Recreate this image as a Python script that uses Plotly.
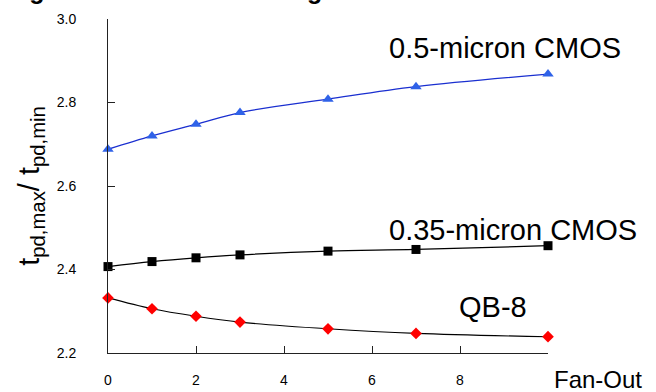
import plotly.graph_objects as go

fan_out = [0, 1, 2, 3, 5, 7, 10]
cmos_05 = [2.688, 2.720, 2.748, 2.776, 2.808, 2.838, 2.868]
cmos_035 = [2.407, 2.419, 2.428, 2.435, 2.444, 2.448, 2.457]
qb8 = [2.332, 2.306, 2.288, 2.274, 2.258, 2.247, 2.239]

x_tickvals = [0, 2, 4, 6, 8, 10]
x_ticktext = ["0", "2", "4", "6", "8", ""]
y_tickvals = [2.2, 2.4, 2.6, 2.8, 3.0]
y_ticktext = ["2.2", "2.4", "2.6", "2.8", "3.0"]

FONT = "Arial, Liberation Sans, sans-serif"

fig = go.Figure()
fig.add_trace(go.Scatter(
    x=fan_out, y=cmos_05, mode="lines+markers",
    line=dict(color="#1a2fd0", width=1.3, shape="spline"),
    marker=dict(symbol="triangle-up", size=10, color="#2f62e8"),
    cliponaxis=False, showlegend=False))
fig.add_trace(go.Scatter(
    x=fan_out, y=cmos_035, mode="lines+markers",
    line=dict(color="black", width=1.3, shape="spline"),
    marker=dict(symbol="square", size=9, color="black"),
    cliponaxis=False, showlegend=False))
fig.add_trace(go.Scatter(
    x=fan_out, y=qb8, mode="lines+markers",
    line=dict(color="black", width=1.1, shape="spline"),
    marker=dict(symbol="diamond", size=9, color="#ff0000"),
    cliponaxis=False, showlegend=False))

ann_font = dict(family=FONT, size=29, color="black")
fig.add_annotation(x=9.02, y=2.93, text="0.5-micron CMOS", showarrow=False,
                   xanchor="center", yanchor="middle", font=ann_font)
fig.add_annotation(x=9.2, y=2.495, text="0.35-micron CMOS", showarrow=False,
                   xanchor="center", yanchor="middle", font=ann_font)
fig.add_annotation(x=8.75, y=2.31, text="QB-8", showarrow=False,
                   xanchor="center", yanchor="middle", font=ann_font)
fig.add_annotation(xref="paper", yref="paper", x=(552 - 108) / 440, y=-(364 - 353) / 334,
                   text="Fan-Out", showarrow=False, xanchor="left", yanchor="top",
                   font=dict(family=FONT, size=24, color="black"))
fig.add_annotation(xref="paper", yref="paper", x=(5 - 108) / 440, y=(353 - 6) / 334,
                   text="<b>Figure 6. Fan-Out Derating Factor</b>", showarrow=False,
                   xanchor="left", yanchor="bottom",
                   font=dict(family=FONT, size=25, color="black"))

fig.update_layout(
    width=656, height=392,
    margin=dict(l=108, r=108, t=19, b=39, autoexpand=False),
    paper_bgcolor="white", plot_bgcolor="white",
    font=dict(family=FONT, color="black"),
    xaxis=dict(range=[0, 10], tickvals=x_tickvals, ticktext=x_ticktext,
               showgrid=False, zeroline=False, showline=True, linecolor="#222",
               linewidth=1, ticks="inside", ticklen=7, tickcolor="#222",
               tickfont=dict(size=14, family=FONT), ticklabelstandoff=14,
               automargin=False),
    yaxis=dict(range=[2.2, 3.0], tickvals=y_tickvals, ticktext=y_ticktext,
               showgrid=False, zeroline=False, showline=True, linecolor="#222",
               linewidth=1, ticks="inside", ticklen=7, tickcolor="#222",
               tickfont=dict(size=14, family=FONT), ticklabelstandoff=28,
               automargin=False,
               title=dict(text="t<sub>pd,max</sub>/ t<sub>pd,min</sub>",
                          font=dict(size=29, family=FONT), standoff=8)),
)

fig.write_html("out.html", config={"displayModeBar": False},
               post_script="document.body.style.margin='0';")
